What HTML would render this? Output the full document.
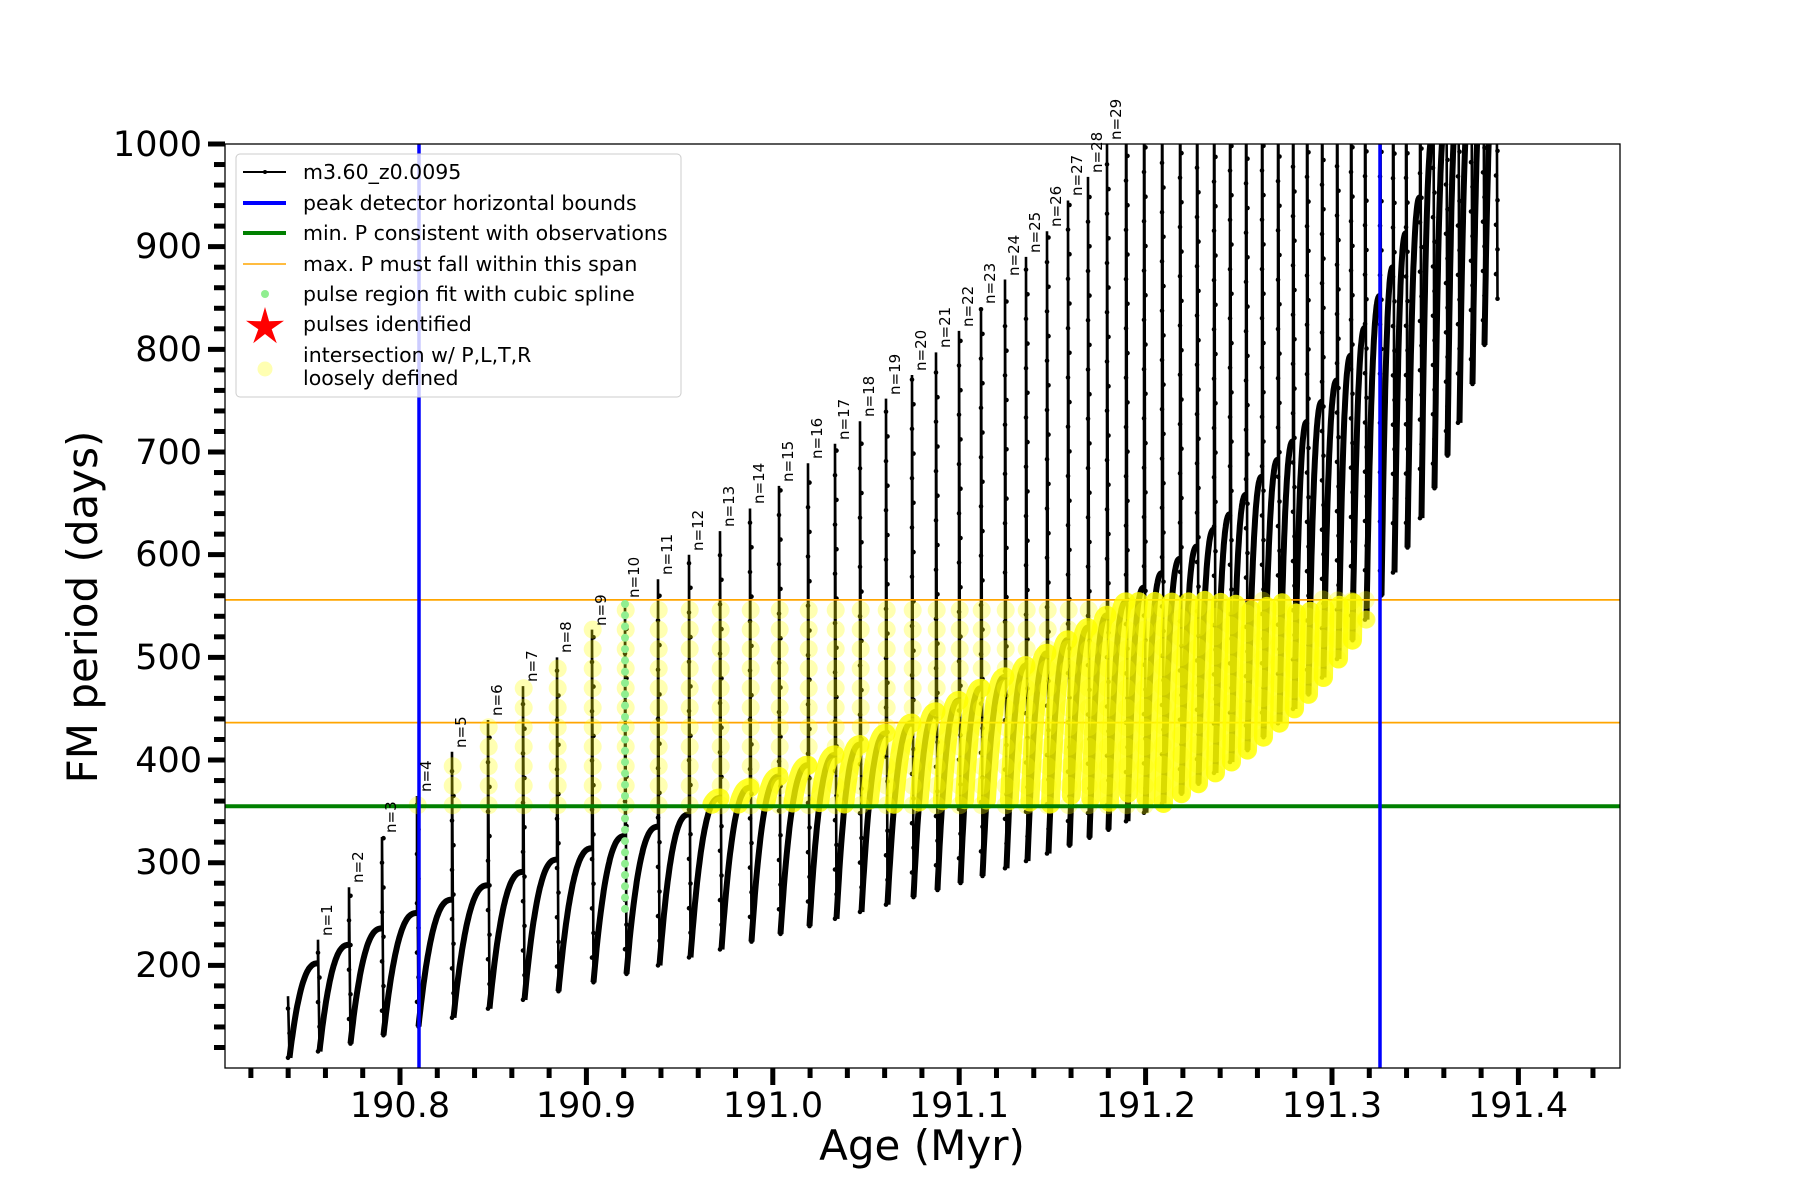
<!DOCTYPE html>
<html><head><meta charset="utf-8"><style>
html,body{margin:0;padding:0;background:#fff;}
svg{display:block;}
text{font-family:"DejaVu Sans","Liberation Sans",sans-serif;fill:#000;}
</style></head><body>
<svg id="s" width="1800" height="1200" viewBox="0 0 1800 1200" xmlns="http://www.w3.org/2000/svg">
<defs><clipPath id="ax"><rect x="225" y="144" width="1395" height="924"/></clipPath></defs>
<rect width="1800" height="1200" fill="#fff"/>
<g id="data" clip-path="url(#ax)"></g>
<g id="lab" font-size="15">
<text transform="translate(332,936) rotate(-90)">n=1</text>
<text transform="translate(363,883) rotate(-90)">n=2</text>
<text transform="translate(396,833) rotate(-90)">n=3</text>
<text transform="translate(431,792) rotate(-90)">n=4</text>
<text transform="translate(466,748) rotate(-90)">n=5</text>
<text transform="translate(502,716) rotate(-90)">n=6</text>
<text transform="translate(537,682) rotate(-90)">n=7</text>
<text transform="translate(571,653) rotate(-90)">n=8</text>
<text transform="translate(606,626) rotate(-90)">n=9</text>
<text transform="translate(639,598) rotate(-90)">n=10</text>
<text transform="translate(672,575) rotate(-90)">n=11</text>
<text transform="translate(703,551) rotate(-90)">n=12</text>
<text transform="translate(734,527) rotate(-90)">n=13</text>
<text transform="translate(764,504) rotate(-90)">n=14</text>
<text transform="translate(793,482) rotate(-90)">n=15</text>
<text transform="translate(822,459) rotate(-90)">n=16</text>
<text transform="translate(849,440) rotate(-90)">n=17</text>
<text transform="translate(874,417) rotate(-90)">n=18</text>
<text transform="translate(900,395) rotate(-90)">n=19</text>
<text transform="translate(926,371) rotate(-90)">n=20</text>
<text transform="translate(950,348) rotate(-90)">n=21</text>
<text transform="translate(973,327) rotate(-90)">n=22</text>
<text transform="translate(995,304) rotate(-90)">n=23</text>
<text transform="translate(1019,276) rotate(-90)">n=24</text>
<text transform="translate(1040,253) rotate(-90)">n=25</text>
<text transform="translate(1061,227) rotate(-90)">n=26</text>
<text transform="translate(1082,196) rotate(-90)">n=27</text>
<text transform="translate(1102,173) rotate(-90)">n=28</text>
<text transform="translate(1121,140) rotate(-90)">n=29</text>
</g>
<rect x="225" y="144" width="1395" height="924" fill="none" stroke="#000" stroke-width="1.3"/>
<g id="ticks" stroke="#000" stroke-width="5"></g>
<g font-size="35" text-anchor="end">
<text x="202" y="977">200</text>
<text x="202" y="874">300</text>
<text x="202" y="772">400</text>
<text x="202" y="669">500</text>
<text x="202" y="566">600</text>
<text x="202" y="464">700</text>
<text x="202" y="361">800</text>
<text x="202" y="258">900</text>
<text x="202" y="156">1000</text>
</g>
<g font-size="35" text-anchor="middle">
<text x="400" y="1117">190.8</text>
<text x="586" y="1117">190.9</text>
<text x="773" y="1117">191.0</text>
<text x="959" y="1117">191.1</text>
<text x="1146" y="1117">191.2</text>
<text x="1332" y="1117">191.3</text>
<text x="1518" y="1117">191.4</text>
</g>
<text x="922" y="1160" font-size="42" text-anchor="middle">Age (Myr)</text>
<text transform="translate(97,607) rotate(-90)" font-size="42" text-anchor="middle">FM period (days)</text>
<g>
<rect x="236" y="154" width="445" height="243" rx="4" fill="#fff" fill-opacity="0.8" stroke="#ccc" stroke-width="1"/>
<line x1="243" y1="172" x2="286" y2="172" stroke="#000" stroke-width="2"/><circle cx="265" cy="172" r="2" fill="#000"/>
<line x1="243" y1="203" x2="286" y2="203" stroke="#0000ff" stroke-width="4"/>
<line x1="243" y1="233" x2="286" y2="233" stroke="#008000" stroke-width="4"/>
<line x1="243" y1="264" x2="286" y2="264" stroke="#ffa500" stroke-width="1.5"/>
<circle cx="265" cy="294" r="4" fill="#90ee90"/>
<polygon id="star" fill="#ff0000"/>
<circle cx="265" cy="369" r="7.5" fill="#ffff00" fill-opacity="0.3"/>
<g font-size="20.5">
<text x="303" y="179">m3.60_z0.0095</text>
<text x="303" y="210">peak detector horizontal bounds</text>
<text x="303" y="240">min. P consistent with observations</text>
<text x="303" y="271">max. P must fall within this span</text>
<text x="303" y="301">pulse region fit with cubic spline</text>
<text x="303" y="331">pulses identified</text>
<text x="303" y="362">intersection w/ P,L,T,R</text>
<text x="303" y="385">loosely defined</text>
</g>
</g>
</svg>
<script>
(function(){
var NS="http://www.w3.org/2000/svg";
function el(p,t,a){var e=document.createElementNS(NS,t);for(var k in a)e.setAttribute(k,a[k]);p.appendChild(e);return e;}
function Y(v){return 144+(1000-v)*1.0267;}
function X(t){return 400+(t-190.8)*1864;}
var ticks=document.getElementById('ticks');
for(var i=0;i<=36;i++){var t=190.72+i*0.02;var x=X(t);if(x>1621)break;var maj=(Math.round(t*100)%10===0);
 el(ticks,'line',{x1:x,y1:1068,x2:x,y2:maj?1085:1078});}
for(var v=120;v<=1000;v+=20){var y=Y(v);var maj=(v%100===0);el(ticks,'line',{x1:maj?208:214,y1:y,x2:225,y2:y});}
var sp=[];for(var k=0;k<10;k++){var r=k%2?7:20;var a=-Math.PI/2+k*Math.PI/5;sp.push((265+r*Math.cos(a)).toFixed(1)+','+(324+r*Math.sin(a)+3).toFixed(1));}
document.getElementById('star').setAttribute('points',sp.join(' '));

var S=[288,318,349,382,417,452,488,523,557,592,625,658,689,720,750,779,808,835,860,886,912,936,959,981,1005,1026,1047,1068,1088,1107,1126,1144,1162,1180,1197,1214,1230,1246,1262,1278,1293,1307,1322,1337,1351,1365,1380,1393,1406,1420,1433,1446,1458,1471,1483,1496];
var PK=[170,225,276,325,365,408,439,472,500,527,554,576,600,623,645,667,689,708,730,752,775,797,818,840,868,890,915,945,968,1000];
var BT=[[288,170],[318,202],[349,220],[382,236],[417,251],[452,264],[488,278],[523,291],[557,303],[592,314],[625,326],[658,335],[689,347],[720,363],[750,373],[779,384],[808,395],[835,405],[860,415],[886,426],[912,436],[936,447],[959,458],[981,470],[1005,481],[1026,492],[1047,504],[1068,517],[1088,529],[1107,541],[1126,554],[1144,568],[1162,582],[1180,596],[1197,608],[1210,621],[1228,637],[1243,655],[1259,673],[1275,689],[1292,709],[1306,728],[1322,749],[1336,768],[1351,794],[1365,821],[1379,850],[1393,880],[1406,913],[1420,948],[1433,1010],[1500,1100]];
function B(x){for(var i=0;i<BT.length-1;i++){if(x<=BT[i+1][0]){var a=BT[i],b=BT[i+1];return a[1]+(b[1]-a[1])*(x-a[0])/(b[0]-a[0]);}}return 1100;}
function M(x){var xd=(x-2.7)/1.1468;return 110+0.28*(xd-253)+240*Math.exp((xd-1231)/115);}
var g=document.getElementById('data');
var spikes='',arcs='',dots=[],yarcs=[],ycirc=[];
for(var i=0;i<S.length;i++){
 var x=S[i],P=(i<PK.length?PK[i]:1250),b=(i==0?170:B(x)),m=(i==0?110:M(x));
 spikes+='M'+x+','+Y(b).toFixed(1)+'L'+x+','+Y(P).toFixed(1)+'L'+(x+1.5)+','+Y(m).toFixed(1);
 for(var v=Math.min(b,m);v<=Math.min(P,1000);v+=24)dots.push([x+(v%48<24?0:1.5),v]);
 if(x>=410&&x<=1382){var lo=Math.max(356,Math.min(b,m)),hi=Math.min(556,P);
  for(var v=lo;v<=hi+1;v+=19)ycirc.push([x+0.7,v]);}
 if(i<S.length-1){
  var x2=S[i+1],bb=B(x2),N=40,pts=[],seg=[];
  for(var k=0;k<=N;k++){var u=k/N;var xx=x+1.5+(x2-x-1.5)*u;var vv=m+(bb-m)*(1-Math.pow(1-u,2.5));
   pts.push(xx.toFixed(1)+','+Y(vv).toFixed(1));
   if(vv>=356&&vv<=556&&xx>=410&&xx<=1382){seg.push(xx.toFixed(1)+','+Y(vv).toFixed(1));}
   else if(seg.length){yarcs.push(seg);seg=[];}}
  if(seg.length)yarcs.push(seg);
  arcs+='M'+pts.join('L');
 }
}
el(g,'path',{d:spikes,fill:'none',stroke:'#000','stroke-width':2.6});
el(g,'path',{d:arcs,fill:'none',stroke:'#000','stroke-width':6,'stroke-linejoin':'round'});
dots.forEach(function(d){el(g,'circle',{cx:d[0],cy:Y(d[1]).toFixed(1),r:2.3,fill:'#000'});});
el(g,'line',{x1:225,x2:1620,y1:Y(556),y2:Y(556),stroke:'#ffa500','stroke-width':1.8});
el(g,'line',{x1:225,x2:1620,y1:Y(436.4),y2:Y(436.4),stroke:'#ffa500','stroke-width':1.8});
ycirc.forEach(function(d){el(g,'circle',{cx:d[0],cy:Y(d[1]).toFixed(1),r:9,fill:'#ffff00','fill-opacity':0.3});});
yarcs.forEach(function(s){if(s.length>1)el(g,'polyline',{points:s.join(' '),fill:'none',stroke:'#ffff00','stroke-width':19,'stroke-linecap':'round','stroke-linejoin':'round','stroke-opacity':0.8});
 else{var p=s[0].split(',');el(g,'circle',{cx:p[0],cy:p[1],r:9,fill:'#ffff00','fill-opacity':0.5});}});
for(var v=255;v<=554;v+=11)el(g,'circle',{cx:625,cy:Y(v).toFixed(1),r:4,fill:'#90ee90'});
el(g,'line',{x1:225,x2:1620,y1:Y(355),y2:Y(355),stroke:'#008000','stroke-width':4});
el(g,'line',{x1:419,x2:419,y1:144,y2:1068,stroke:'#0000ff','stroke-width':3.5});
el(g,'line',{x1:1380,x2:1380,y1:144,y2:1068,stroke:'#0000ff','stroke-width':3.5});
})();
</script>
</body></html>
